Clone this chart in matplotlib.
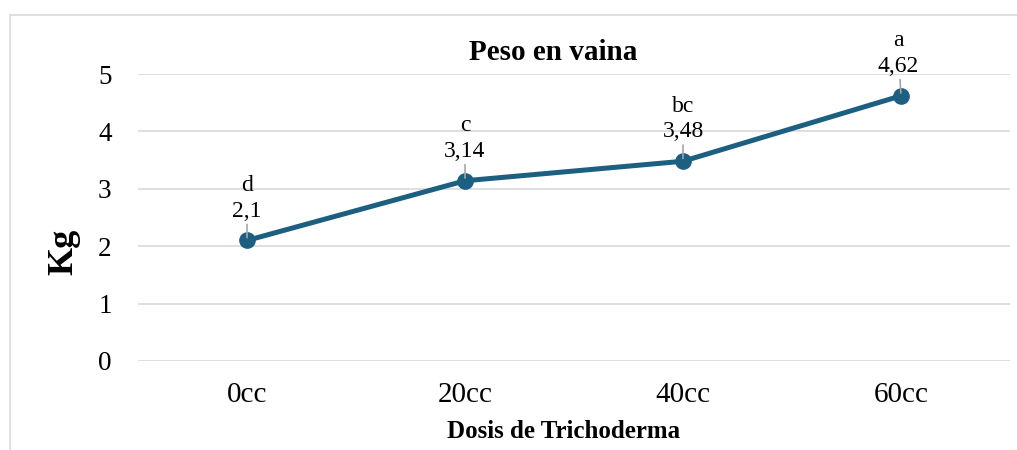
import matplotlib
matplotlib.use("Agg")
import matplotlib.pyplot as plt
from matplotlib.patches import Rectangle

categories = ["0cc", "20cc", "40cc", "60cc"]
values = [2.1, 3.14, 3.48, 4.62]
value_labels = ["2,1", "3,14", "3,48", "4,62"]
letters = ["d", "c", "bc", "a"]
yticks = [0, 1, 2, 3, 4, 5]

plt.rcParams['font.family'] = ['Liberation Serif', 'DejaVu Serif']

W, H = 1017, 450
fig = plt.figure(figsize=(W / 100, H / 100), dpi=100)
ax = fig.add_axes([138 / W, 1 - 361 / H, (1010 - 138) / W, (361 - 74) / H])

# outer chart frame
fig.patches.append(Rectangle((10 / W, -0.2), 1.2, (H - 15) / H + 0.2,
                             transform=fig.transFigure, fill=False,
                             edgecolor='#D9D9D9', linewidth=1.2))

color = '#1C5F80'
x = list(range(len(categories)))
ax.plot(x, values, color=color, linewidth=3.6, marker='o', markersize=11,
        solid_capstyle='round', zorder=3)

ax.set_xlim(-0.5, len(categories) - 0.5)
ax.set_ylim(0, 5)
ax.set_yticks(yticks)
ax.set_yticklabels([str(t) for t in yticks])
ax.set_xticks(x)
ax.set_xticklabels(categories)
ax.tick_params(axis='both', length=0, colors='black')
ax.tick_params(axis='y', labelsize=19.5, pad=19)
ax.tick_params(axis='x', labelsize=21, pad=15)
ax.grid(axis='y', color='#D9D9D9', linewidth=1.2)
ax.set_axisbelow(True)
for s in ax.spines.values():
    s.set_visible(False)

# data labels with leader lines
for xi, v, vl, lt in zip(x, values, value_labels, letters):
    dx = -0.012 if xi == 3 else 0.0
    ax.annotate(f"{lt}\n{vl}", xy=(xi, v), xytext=(xi + dx, v + 0.33),
                ha='center', va='bottom', fontsize=17, linespacing=1.3,
                arrowprops=dict(arrowstyle='-', color='#A6A6A6', lw=1.2,
                                shrinkA=0, shrinkB=2))

fig.text(553 / W, 1 - 53 / H, "Peso en vaina", ha='center', va='center',
         fontsize=21, fontweight='bold')
fig.text(64 / W, 1 - 252 / H, "Kg", rotation=90, ha='center', va='center',
         fontsize=26, fontweight='bold')
fig.text(564 / W, 1 - 431 / H, "Dosis de Trichoderma", ha='center', va='center',
         fontsize=18, fontweight='bold')

fig.savefig("out.png", dpi=100)
